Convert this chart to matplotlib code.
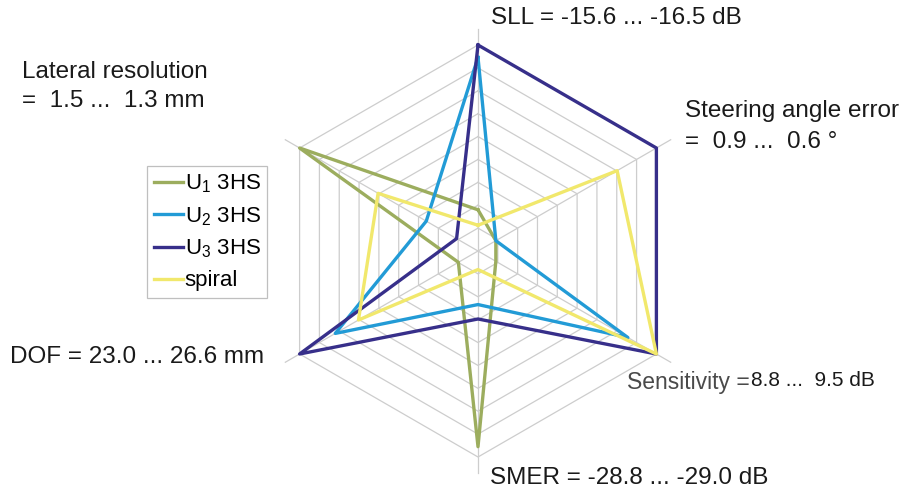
import numpy as np
import matplotlib
matplotlib.use("Agg")
import matplotlib.pyplot as plt

plt.rcParams['font.family'] = ['Liberation Sans', 'DejaVu Sans']
plt.rcParams['mathtext.default'] = 'regular'

# axes, counter-clockwise starting from top
axis_angles = [90, 30, -30, -90, 210, 150]

# normalised values (0 = centre, 1 = outer ring)
u1 = [0.20, 0.10, 0.10, 0.95, 0.11, 1.00]
u2 = [0.94, 0.10, 0.84, 0.26, 0.80, 0.29]
u3 = [1.00, 1.00, 1.00, 0.33, 1.00, 0.12]
spiral = [0.125, 0.78, 1.00, 0.09, 0.67, 0.56]

series_names = ["U$_1$ 3HS", "U$_2$ 3HS", "U$_3$ 3HS", "spiral"]
series_colors = ["#9cad5e", "#229bd6", "#372f8a", "#f1e86c"]

n_rings = 9

W, H = 920, 493
cx, cy = 478, 251      # centre in pixels
s = 206.0              # pixels per unit radius

fig = plt.figure(figsize=(W / 100, H / 100), dpi=100)
ax = fig.add_axes([0, 0, 1, 1])
ax.set_xlim(-cx / s, (W - cx) / s)
ax.set_ylim(-(H - cy) / s, cy / s)
ax.axis('off')

ang = np.radians(axis_angles)
ang_c = np.append(ang, ang[0])

# grid rings
for k in range(1, n_rings + 1):
    r = k / n_rings
    ax.plot(r * np.cos(ang_c), r * np.sin(ang_c), color="#cdcdcd", lw=0.9, zorder=1)
# spokes
for a in ang:
    ax.plot([0, 1.08 * np.cos(a)], [0, 1.08 * np.sin(a)], color="#cdcdcd", lw=0.9, zorder=1)

for vals, name, col in zip([u1, u2, u3, spiral], series_names, series_colors):
    v = np.append(vals, vals[0])
    ax.plot(v * np.cos(ang_c), v * np.sin(ang_c), color=col, lw=2.4, label=name, zorder=3)


def px(x, y):
    return (x - cx) / s, (cy - y) / s


fs = 17.5
tc = "#1a1a1a"
ax.text(*px(491, 18), "SLL = -15.6 ... -16.5 dB", fontsize=fs, color=tc, va='center', ha='left')
ax.text(*px(685, 111), "Steering angle error", fontsize=fs, color=tc, va='center', ha='left')
ax.text(*px(685, 142), "=  0.9 ...  0.6 °", fontsize=fs, color=tc, va='center', ha='left')
ax.text(*px(490, 478), "SMER = -28.8 ... -29.0 dB", fontsize=fs, color=tc, va='center', ha='left')
ax.text(*px(10, 357), "DOF = 23.0 ... 26.6 mm", fontsize=fs, color=tc, va='center', ha='left')
ax.text(*px(22, 72), "Lateral resolution", fontsize=fs, color=tc, va='center', ha='left')
ax.text(*px(22, 101), "=  1.5 ...  1.3 mm", fontsize=fs, color=tc, va='center', ha='left')

# sensitivity label: grey word, black numbers right after it
t_sens = ax.text(*px(627, 382), "Sensitivity =", fontsize=16.5, color="#4a4a4a",
                 va='center', ha='left')
fig.canvas.draw()
bb = t_sens.get_window_extent()
ax.text(*px(bb.x1 + 1, 380), "8.8 ...  9.5 dB", fontsize=15, color=tc, va='center', ha='left')

leg = ax.legend(loc='upper left', bbox_to_anchor=(147 / W, 1 - 166 / H),
                bbox_transform=fig.transFigure, fontsize=16, frameon=True,
                fancybox=False, handlelength=1.3, handletextpad=0.1,
                borderpad=0.3, labelspacing=0.45, borderaxespad=0)
leg.get_frame().set_edgecolor("#b0b0b0")
leg.get_frame().set_linewidth(0.9)

fig.savefig("out.png", dpi=100)
